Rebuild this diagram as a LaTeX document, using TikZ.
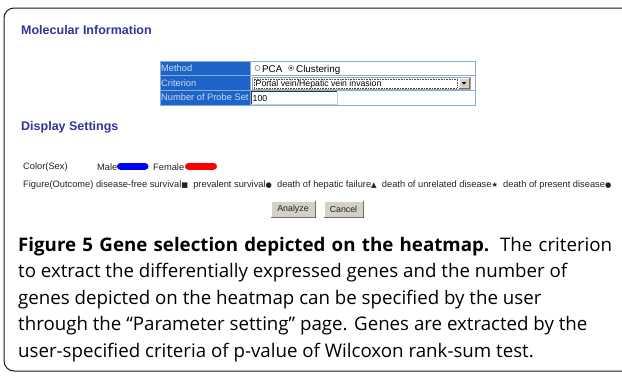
\documentclass[tikz,border=0pt]{standalone}
\usepackage{fontspec}
\setmainfont{Liberation Sans}
\newfontfamily\capfont{Open Sans}
\newfontfamily\symfont{DejaVu Sans}
\definecolor{hdrblue}{RGB}{51,51,153}
\definecolor{cellblue}{RGB}{30,100,200}
\definecolor{celltext}{RGB}{200,218,240}
\definecolor{cellline}{RGB}{130,175,225}
\definecolor{btngray}{RGB}{212,208,200}
\definecolor{btndark}{RGB}{110,110,110}
\definecolor{uitext}{RGB}{35,35,35}
\definecolor{framegray}{RGB}{25,25,25}
\newcommand{\smallsym}[1]{{\symfont\fontsize{7.2}{7}\selectfont #1}}
\begin{document}
\begin{tikzpicture}[x=1pt,y=-1pt,
  hdr/.style={anchor=west, inner sep=0pt, text=hdrblue, font=\fontsize{12.5}{14}\selectfont\bfseries},
  celllabel/.style={anchor=west, inner sep=0pt, text=celltext, font=\fontsize{9.3}{11}\selectfont},
  ui/.style={anchor=west, inner sep=0pt, text=uitext, font=\fontsize{9.3}{11}\selectfont},
  field/.style={anchor=base west, inner sep=0pt, text=black, font=\fontsize{8.7}{10}\selectfont},
  radiolabel/.style={anchor=base west, inner sep=0pt, text=black, font=\fontsize{9.8}{11}\selectfont},
  btnlabel/.style={inner sep=0pt, text=uitext, font=\fontsize{8.8}{10}\selectfont},
  capline/.style={anchor=base west, inner sep=0pt, text=black, font=\capfont\fontsize{18.7}{20}\selectfont},
  pill/.style={rounded corners=3.4pt}
]
\useasboundingbox (0,0) rectangle (622,376);

% open caption frame with rounded left corners
\draw[framegray, line width=1pt]
  (622,8) -- (14,8) arc[start angle=270, end angle=180, radius=10] -- (4,361)
  arc[start angle=180, end angle=90, radius=10] -- (622,371);

% section headings
\node[hdr] (molinfo) at (21,30) {Molecular Information};
\node[hdr] (display) at (21,127) {Display Settings};

% parameter table
\fill[white] (160,61) rectangle (475,105);
\fill[cellblue] (160,61) rectangle (250,105);
\draw[cellline, line width=0.8pt] (160,61) rectangle (475,105);
\draw[cellline, line width=0.8pt] (160,75.5) -- (475,75.5) (160,90) -- (475,90) (250,61) -- (250,105);
\node[celllabel] (method) at (161,68.5) {Method};
\node[celllabel] (criterion) at (161,83) {Criterion};
\node[celllabel] (probeset) at (161,97.5) {Number of Probe Set};

% method radio buttons
\draw[gray, line width=0.6pt] (257.5,68) circle[radius=2.6];
\node[radiolabel] (pca) at (262,72) {PCA};
\draw[gray, line width=0.6pt] (291,68) circle[radius=2.6];
\fill[black] (291,68) circle[radius=1.1];
\node[radiolabel] (clustering) at (296,72) {Clustering};

% criterion drop-down
\draw[gray!70, line width=0.6pt] (252,77.3) rectangle (470,89.3);
\draw[black!70, line width=0.5pt, dash pattern=on 0.8pt off 0.8pt] (253.8,78.8) rectangle (457,87.9);
\node[field] (crit) at (255.5,86) {Portal vein/Hepatic vein invasion};
\fill[btngray] (459,78.3) rectangle (469,88.3);
\draw[white, line width=0.6pt] (459,88.3) -- (459,78.3) -- (469,78.3);
\draw[btndark, line width=0.6pt] (459,88.3) -- (469,88.3) -- (469,78.3);
\fill[black] (461.8,82) -- (466.2,82) -- (464,84.6) -- cycle;

% probe set count box
\fill[white] (251,91.5) rectangle (337,104);
\draw[black!80, line width=0.8pt] (251,104) -- (251,91.5) -- (337,91.5);
\draw[gray!40, line width=0.6pt] (251,104) -- (337,104) -- (337,91.5);
\node[field] (count) at (252.5,101) {100};

% colour legend
\node[ui] (colorsex) at (23,167) {Color(Sex)};
\node[ui] (male) at (97,167) {Male};
\fill[blue, pill] (117,163) rectangle (148.5,169.8);
\node[ui] (female) at (153,167) {Female};
\fill[red, pill] (185,163) rectangle (217,169.8);

% outcome legend
\node[ui] (outcome) at (23,185) {Figure(Outcome) disease-free survival\smallsym{■}\ \ prevalent survival\smallsym{●}\ \ death of hepatic failure\smallsym{▲}\ \ death of unrelated disease\smallsym{★}\ \ death of present disease\smallsym{●}};

% buttons
\fill[btngray] (271,201) rectangle (315,217);
\draw[white, line width=0.8pt] (271,217) -- (271,201) -- (315,201);
\draw[btndark, line width=0.8pt] (271,217) -- (315,217) -- (315,201);
\node[btnlabel] (analyze) at (293,209) {Analyze};
\fill[btngray] (324,201) rectangle (363,217);
\draw[white, line width=0.8pt] (324,217) -- (324,201) -- (363,201);
\draw[btndark, line width=0.8pt] (324,217) -- (363,217) -- (363,201);
\node[btnlabel] (cancel) at (343.5,209) {Cancel};

% caption
\node[capline] (cap1) at (18,251) {\makebox[594pt][s]{\textbf{Figure 5 Gene selection depicted on the heatmap.} The criterion}};
\node[capline] (cap2) at (18,277.5) {to extract the differentially expressed genes and the number of};
\node[capline] (cap3) at (18,304) {genes depicted on the heatmap can be specified by the user};
\node[capline] (cap4) at (18,330.5) {through the “Parameter setting” page. Genes are extracted by the};
\node[capline] (cap5) at (18,357) {user-specified criteria of p-value of Wilcoxon rank-sum test.};
\end{tikzpicture}
\end{document}
